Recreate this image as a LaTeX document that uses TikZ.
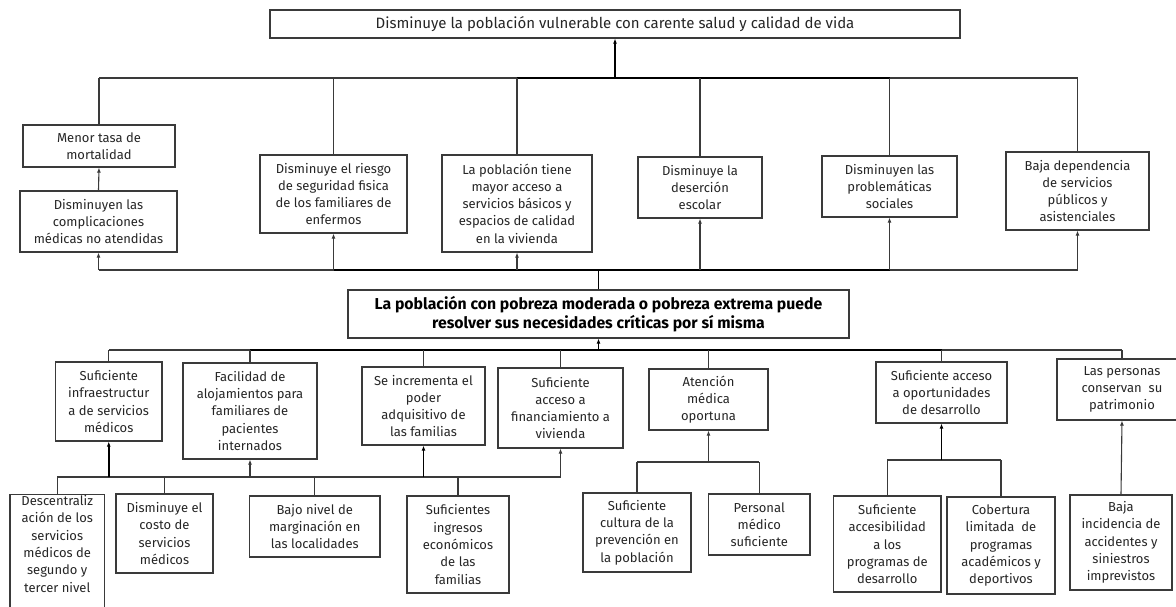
\documentclass[tikz,border=0pt]{standalone}
\usepackage{fontspec}
\setmainfont{Fira Sans}
\usetikzlibrary{arrows.meta}
\definecolor{ln}{HTML}{3a3a3a}
\tikzset{
  bx/.style={draw=ln, line width=1.2pt, align=center, inner sep=1pt,
    font=\fontsize{13}{17.3}\selectfont, text=black!85},
  titlefont/.style={font=\fontsize{15}{18}\selectfont},
  mainfont/.style={font=\fontsize{15.8}{19}\selectfont\bfseries, text=black},
  ln/.style={draw=ln, line width=1.1pt},
  thk/.style={draw=black, line width=1.8pt},
  arr/.style={-{Latex[length=5pt,width=4pt]}},
}
\newcommand{\bxat}[7][]{% opts, name, x1,y1,x2,y2, text
  \node[bx, #1, minimum width={(#5-#3)*1pt}, minimum height={(#6-#4)*1pt}] (#2) at ({(#3+#5)/2},{(#4+#6)/2}) {#7};}
\begin{document}
\begin{tikzpicture}[x=1pt,y=-1pt]
\useasboundingbox (0,0) rectangle (1176,606);
\fill[white] (0,0) rectangle (1176,606);
\clip (0,0) rectangle (1176,606);
% top
\bxat[titlefont]{T}{270}{10}{960}{38}{Disminuye la población vulnerable con carente salud y calidad de vida}
% effects
\bxat{E1}{23}{125}{175}{167}{Menor tasa de\\mortalidad}
\bxat{E1b}{20}{191}{177}{252}{Disminuyen las\\complicaciones\\médicas no atendidas}
\bxat{E2}{260}{155}{407}{233}{Disminuye el riesgo\\de seguridad fisica\\de los familiares de\\enfermos}
\bxat{E3}{442}{155}{592}{252}{La población tiene\\mayor acceso a\\servicios básicos y\\espacios de calidad\\en la vivienda}
\bxat{E4}{638}{157}{762}{218}{Disminuye la\\deserción\\escolar}
\bxat{E5}{822}{156}{957}{217}{Disminuyen las\\problemáticas\\sociales}
\bxat{E6}{1006}{152}{1149}{230}{Baja dependencia\\de servicios\\públicos y\\asistenciales}
% main
\bxat[mainfont]{M}{348}{290}{849}{338}{La población con pobreza moderada o pobreza extrema puede\\resolver sus necesidades críticas por sí misma}
% causes
\bxat{C1}{55.5}{362}{162}{441}{Suficiente\\infraestructur\\a de servicios\\médicos}
\bxat{C2}{183}{363}{317}{459}{Facilidad de\\alojamientos para\\familiares de\\pacientes\\internados}
\bxat{C3}{362}{367}{485}{445}{Se incrementa el\\poder\\adquisitivo de\\las familias}
\bxat{C4}{498}{368}{623}{448}{Suficiente\\acceso a\\financiamiento a\\vivienda}
\bxat{C5}{649}{369}{768}{430}{Atención\\médica\\oportuna}
\bxat{C6}{876}{362}{1007}{423}{Suficiente acceso\\a oportunidades\\de desarrollo}
\bxat{C7}{1057}{359}{1187}{420}{Las personas\\conservan~~su\\patrimonio}
% sub-causes
\bxat{D1}{10}{496}{104.5}{626}{Descentraliz\\ación de los\\servicios\\médicos de\\segundo y\\tercer nivel\\[17pt]}
\bxat{D2}{116}{494}{213}{573}{Disminuye el\\costo de\\servicios\\médicos}
\bxat{D3}{249.5}{496}{380}{557}{Bajo nivel de\\marginación en\\las localidades}
\bxat{D4}{407}{496}{509}{593}{Suficientes\\ingresos\\económicos\\de las\\familias}
\bxat{D5}{583}{493}{691}{572}{Suficiente\\cultura de la\\prevención en\\la población}
\bxat{D6}{708.5}{494}{810}{555}{Personal\\médico\\suficiente}
\bxat{D7}{833.5}{496}{941}{592}{Suficiente\\accesibilidad\\a los\\programas de\\desarrollo}
\bxat{D8}{947}{497}{1055}{594}{Cobertura\\limitada~~de\\programas\\académicos y\\deportivos}
\bxat{D9}{1070}{495}{1172}{590}{Baja\\incidencia de\\accidentes y\\siniestros\\imprevistos}
% bus levels
\coordinate (topbus) at (0,78);
\coordinate (midbus) at (0,270);
\coordinate (lowbus) at (0,350);
\coordinate (cbusA) at (0,477);
\coordinate (cbusB) at (0,462);
\coordinate (cbusC) at (0,460);
% top bus to T
\draw[thk,arr] (T.south |- topbus) -- (T.south);
\draw[ln] (E1.north |- topbus) -- (E6.north |- topbus);
\draw[thk] (E3.north |- topbus) -- (E5.north |- topbus);
\foreach \n in {E1,E2,E3,E4,E5,E6} \draw[ln] (\n.north |- topbus) -- (\n.north);
\draw[ln,arr] (E1b.north) -- (E1.south);
% main to mid bus
\draw[thk] (M.north) -- (M.north |- midbus);
\draw[ln] (E1b.south |- midbus) -- (E6.south |- midbus);
\draw[thk] (E2.south |- midbus) -- (E5.south |- midbus);
\foreach \n in {E1b,E2,E3,E4,E5,E6} \draw[ln,arr] (\n.south |- midbus) -- (\n.south);
% low bus to M
\draw[thk,arr] (M.south |- lowbus) -- (M.south);
\draw[ln] (C1.north |- lowbus) -- (C7.north |- lowbus);
\draw[thk] (C2.north |- lowbus) -- (C6.north |- lowbus);
\foreach \n in {C1,C2,C3,C4,C5,C6,C7} \draw[ln] (\n.north |- lowbus) -- (\n.north);
% left cluster
\draw[ln] (D1.north |- cbusA) -- (C4.south |- cbusA);
\foreach \n in {D1,D2,D3,D4} \draw[ln] (\n.north |- cbusA) -- (\n.north);
\draw[thk,arr] (C1.south |- cbusA) -- (C1.south);
\draw[ln,arr] (C2.south |- cbusA) -- (C2.south);
\draw[thk,arr] (C3.south |- cbusA) -- (C3.south);
\draw[ln,arr] (C4.south |- cbusA) -- (C4.south);
% atencion cluster
\draw[ln] (D5.north |- cbusB) -- (D6.north |- cbusB);
\foreach \n in {D5,D6} \draw[ln] (\n.north |- cbusB) -- (\n.north);
\draw[ln,arr] (C5.south |- cbusB) -- (C5.south);
% oportunidades cluster
\draw[ln] (D7.north |- cbusC) -- (D8.north |- cbusC);
\foreach \n in {D7,D8} \draw[ln] (\n.north |- cbusC) -- (\n.north);
\draw[thk,arr] (C6.south |- cbusC) -- (C6.south);
% patrimonio
\draw[ln,arr] (D9.north) -- (C7.south);
\end{tikzpicture}
\end{document}
